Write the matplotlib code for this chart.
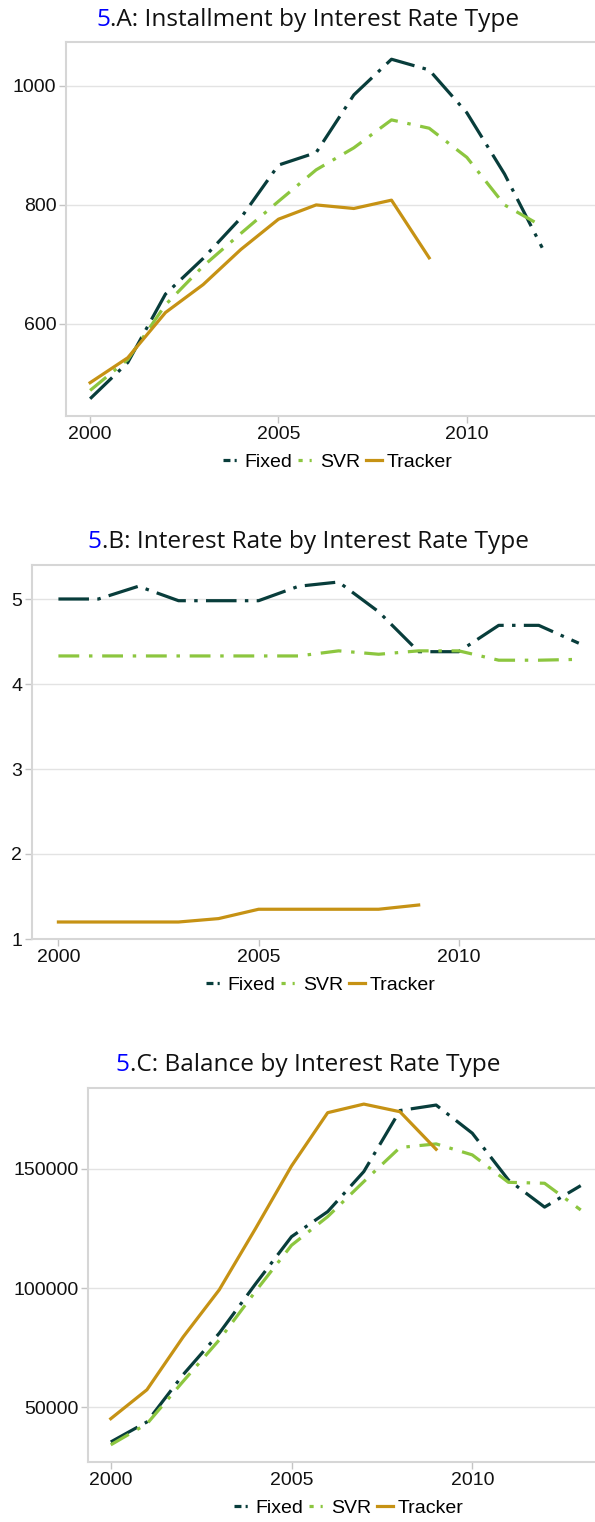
import matplotlib.pyplot as plt
from matplotlib.lines import Line2D

plt.rcParams['font.family'] = ['Liberation Sans', 'DejaVu Sans']
plt.rcParams['lines.scale_dashes'] = False

W, H = 595, 1522

years = [2000, 2001, 2002, 2003, 2004, 2005, 2006, 2007, 2008, 2009, 2010, 2011, 2012, 2013]
tracker_years = years[:10]

# 5.A installment
inst_fixed = [474, 535, 650, 710, 778, 867, 888, 985, 1045, 1027, 955, 852, 728]
inst_svr = [488, 540, 632, 697, 752, 806, 859, 896, 943, 929, 880, 800, 764]
inst_tracker = [501, 543, 619, 666, 725, 776, 800, 794, 808, 711]

# 5.B interest rate
rate_fixed = [5.0, 5.0, 5.15, 4.98, 4.98, 4.98, 5.15, 5.2, 4.85, 4.38, 4.38, 4.69, 4.69, 4.48]
rate_svr = [4.33, 4.33, 4.33, 4.33, 4.33, 4.33, 4.33, 4.39, 4.35, 4.39, 4.39, 4.28, 4.28, 4.29]
rate_tracker = [1.2, 1.2, 1.2, 1.2, 1.24, 1.35, 1.35, 1.35, 1.35, 1.40]

# 5.C balance
bal_fixed = [35500, 43900, 63700, 81100, 101700, 121600, 132100, 148900, 174500, 176800,
             165000, 145400, 134000, 143000]
bal_svr = [34300, 43100, 60900, 78300, 98600, 118000, 130000, 144700, 159000, 160500,
           155900, 144400, 144000, 132800]
bal_tracker = [45260, 57400, 79500, 99300, 124900, 151250, 173600, 177200, 174000, 158250]

series_names = ['Fixed', 'SVR', 'Tracker']
xticks = [2000, 2005, 2010]

C_FIXED = '#083d3b'
C_SVR = '#8cc63f'
C_TRACKER = '#c69214'
GRID = '#e3e3e3'
FRAME = '#d6d6d6'
TITLE_FONT = ['Open Sans', 'DejaVu Sans']
FS = 14
LW = 2.3

fig = plt.figure(figsize=(W / 100, H / 100), dpi=100)
fig.patch.set_facecolor('white')

# short dash-dot handles for the legends
legend_handles = [
    Line2D([], [], color=C_FIXED, lw=LW, dashes=(5, 3, 1.5, 6)),
    Line2D([], [], color=C_SVR, lw=LW, dashes=(3, 5, 1.5, 6)),
    Line2D([], [], color=C_TRACKER, lw=LW),
]


def make_axes(left, top, bottom, right=610):
    return fig.add_axes([left / W, 1 - bottom / H, (right - left) / W, (bottom - top) / H])


def draw_panel(ax, fixed, svr, tracker, ylim, yticks, xlim):
    ax.plot(years[:len(fixed)], fixed, color=C_FIXED, lw=LW, dashes=(22, 6, 2.5, 6))
    ax.plot(years[:len(svr)], svr, color=C_SVR, lw=LW, dashes=(15, 7, 2.5, 7))
    ax.plot(tracker_years, tracker, color=C_TRACKER, lw=LW)
    ax.set_xlim(*xlim)
    ax.set_ylim(*ylim)
    ax.set_xticks(xticks)
    ax.set_yticks(yticks)
    ax.grid(axis='y', color=GRID, lw=1)
    ax.set_axisbelow(True)
    for s in ax.spines.values():
        s.set_color(FRAME)
        s.set_linewidth(1.5)
    ax.tick_params(length=5, width=1, color='#c4c4c4', labelsize=FS, pad=2,
                   labelcolor='#111111')


def add_legend(ax, cx, cy):
    ax.legend(legend_handles, series_names, loc='center',
              bbox_to_anchor=(cx / W, 1 - cy / H),
              bbox_transform=fig.transFigure, ncol=3, frameon=False,
              fontsize=FS, handlelength=0.85, handletextpad=0.25,
              columnspacing=0.3, borderpad=0, borderaxespad=0)


def add_title(cx, base, head, rest, size=17.6):
    r = fig.canvas.get_renderer()
    t1 = fig.text(0, 0, head, color='#0000ff', fontsize=size, family=TITLE_FONT,
                  va='baseline')
    t2 = fig.text(0, 0, rest, color='#111111', fontsize=size, family=TITLE_FONT,
                  va='baseline')
    w1 = t1.get_window_extent(r).width
    w2 = t2.get_window_extent(r).width
    x0 = cx - (w1 + w2) / 2
    t1.set_position((x0 / W, 1 - base / H))
    t2.set_position(((x0 + w1) / W, 1 - base / H))


axA = make_axes(66, 42, 416)
draw_panel(axA, inst_fixed, inst_svr, inst_tracker, (445, 1074), [600, 800, 1000],
           (1999.36, 2013.8))
add_legend(axA, 338, 462)
add_title(308, 26, '5', '.A: Installment by Interest Rate Type')

axB = make_axes(32, 565, 939)
draw_panel(axB, rate_fixed, rate_svr, rate_tracker, (1, 5.4), [1, 2, 3, 4, 5],
           (1999.34, 2013.78))
add_legend(axB, 321, 985)
add_title(308, 548, '5', '.B: Interest Rate by Interest Rate Type')

axC = make_axes(88, 1088, 1462)
draw_panel(axC, bal_fixed, bal_svr, bal_tracker, (27100, 183950), [50000, 100000, 150000],
           (1999.37, 2013.81))
add_legend(axC, 349, 1508)
add_title(308, 1071, '5', '.C: Balance by Interest Rate Type')

fig.savefig('out.png', dpi=100)
